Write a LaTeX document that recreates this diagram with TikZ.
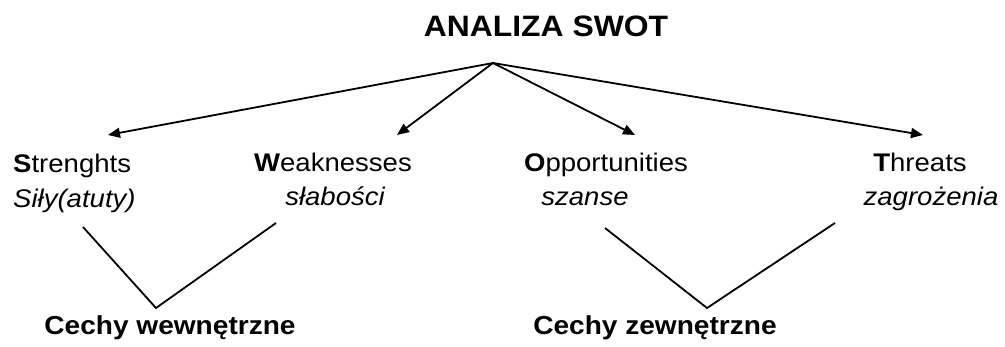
\documentclass[tikz,border=0pt]{standalone}
\usepackage{fontspec}
\setmainfont{Liberation Sans}[FakeStretch=1.08]
\usetikzlibrary{arrows.meta}
\begin{document}
\begin{tikzpicture}[x=1pt,y=-1pt,
  lbl/.style={inner sep=0pt,font=\fontsize{25.5}{30}\selectfont},
  ttl/.style={inner sep=0pt,font=\fontsize{29.5}{34}\selectfont\bfseries},
  low/.style={inner sep=0pt,font=\fontsize{26}{30}\selectfont\bfseries},
  arr/.style={line width=1.8pt,-{Triangle[length=12pt,width=10pt]}},
  vline/.style={line width=1.8pt,line join=miter}]
\useasboundingbox (0,0) rectangle (1005,347);
\node[ttl,anchor=base] (title) at (546,37) {ANALIZA SWOT};
\coordinate (apex) at (493,63);
\coordinate (tS) at (108,135);
\coordinate (tW) at (397,135);
\coordinate (tO) at (635,135);
\coordinate (tT) at (923,135);
\draw[arr] (apex) -- (tS);
\draw[arr] (apex) -- (tW);
\draw[arr] (apex) -- (tO);
\draw[arr] (apex) -- (tT);
\node[lbl,anchor=base west] (s1) at (13,173) {{\bfseries S}trenghts};
\node[lbl,anchor=base west] (s2) at (13,208) {\itshape Siły(atuty)};
\node[lbl,anchor=base] (w1) at (333,172) {{\bfseries W}eaknesses};
\node[lbl,anchor=base] (w2) at (335,206) {\itshape słabości};
\node[lbl,anchor=base] (o1) at (606,172) {{\bfseries O}pportunities};
\node[lbl,anchor=base] (o2) at (585,206) {\itshape szanse};
\node[lbl,anchor=base] (t1) at (920,172) {{\bfseries T}hreats};
\node[lbl,anchor=base] (t2) at (931,206) {\itshape zagrożenia};
\coordinate (a1) at (83,227);
\coordinate (a2) at (156,308);
\coordinate (a3) at (276,223);
\coordinate (b1) at (605,228);
\coordinate (b2) at (707,308);
\coordinate (b3) at (835,223);
\draw[vline] (a1) -- (a2) -- (a3);
\draw[vline] (b1) -- (b2) -- (b3);
\node[low,anchor=base] (cw) at (170,335) {Cechy wewnętrzne};
\node[low,anchor=base] (cz) at (655,335) {Cechy zewnętrzne};
\end{tikzpicture}
\end{document}
